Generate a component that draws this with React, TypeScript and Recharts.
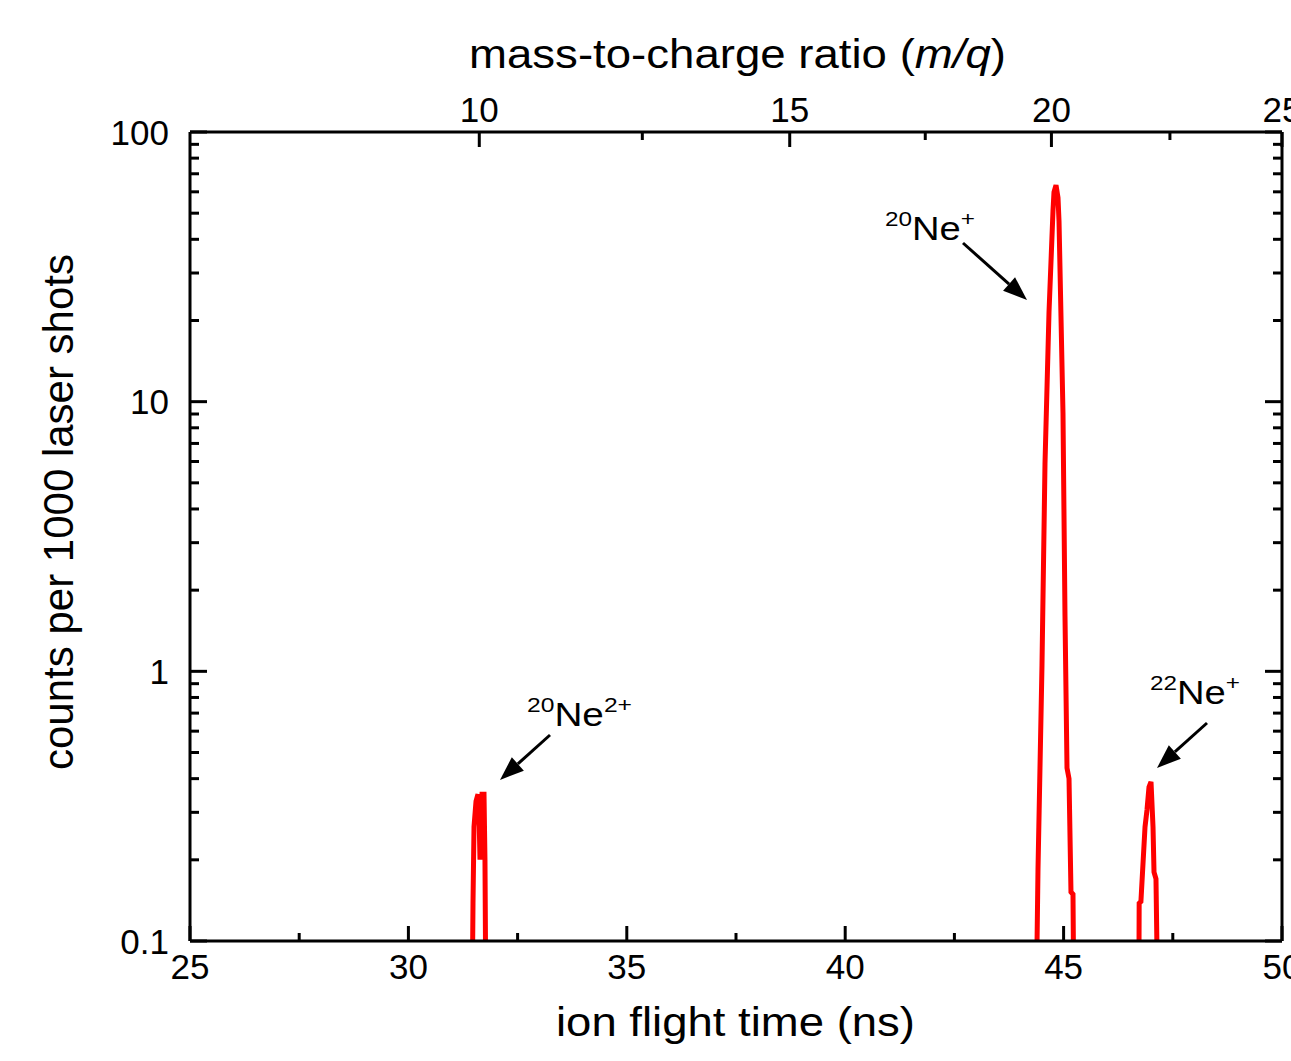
import { Line, LineChart, XAxis, YAxis } from 'recharts';

const FONT = '"Liberation Sans", Arial, Helvetica, sans-serif';

// axis ticks
const TIME_TICKS = [25, 27.5, 30, 32.5, 35, 37.5, 40, 42.5, 45, 47.5, 50];
const MQ_TICKS = [10, 12.5, 15, 17.5, 20, 22.5, 25];
const COUNT_TICKS = [
  0.1, 0.2, 0.3, 0.4, 0.5, 0.6, 0.7, 0.8, 0.9,
  1, 2, 3, 4, 5, 6, 7, 8, 9,
  10, 20, 30, 40, 50, 60, 70, 80, 90, 100,
];

// 20Ne2+ peak
const PEAK_A_TIME = [31.456, 31.479, 31.502, 31.548, 31.593, 31.616, 31.639, 31.662, 31.685, 31.731, 31.753, 31.776];
const PEAK_A_COUNTS = [0.05, 0.138, 0.265, 0.33, 0.35, 0.3, 0.2, 0.3, 0.35, 0.35, 0.2, 0.05];

// 20Ne+ peak
const PEAK_B_TIME = [44.368, 44.414, 44.505, 44.574, 44.666, 44.757, 44.78, 44.826, 44.872, 44.895, 44.986, 45.032, 45.078, 45.124, 45.169, 45.215, 45.238];
const PEAK_B_COUNTS = [0.05, 0.185, 1.05, 5.87, 21.5, 50.9, 59.8, 63.5, 57, 46.7, 9.07, 1.6, 0.438, 0.4, 0.152, 0.149, 0.05];

// 22Ne+ peak
const PEAK_C_TIME = [46.72, 46.73, 46.77, 46.864, 46.909, 46.955, 47.001, 47.047, 47.07, 47.115, 47.161];
const PEAK_C_COUNTS = [0.05, 0.138, 0.14, 0.265, 0.306, 0.372, 0.389, 0.265, 0.18, 0.17, 0.05];

const toRows = (ts: number[], vs: number[]) => ts.map((t, i) => ({ t, v: vs[i] }));

const data = [
  ...toRows(PEAK_A_TIME, PEAK_A_COUNTS),
  { t: 38, v: null },
  ...toRows(PEAK_B_TIME, PEAK_B_COUNTS),
  { t: 46, v: null },
  ...toRows(PEAK_C_TIME, PEAK_C_COUNTS),
];

// flight time ~ 10 * sqrt(m/q)
const TOP_TICK_TIMES = MQ_TICKS.map((m) => 10 * Math.sqrt(m));

const isDecade = (v: number) => {
  const lg = Math.log10(v);
  return Math.abs(lg - Math.round(lg)) < 1e-6;
};

const BottomTick = (props: any) => {
  const { x, y, payload } = props;
  const v = payload.value;
  const major = v % 5 === 0;
  return (
    <g>
      <line x1={x} y1={y} x2={x} y2={y - (major ? 15 : 8)} stroke="#000" strokeWidth={3} />
      {major && (
        <text x={x} y={y + 38} textAnchor="middle" fontSize={35} fontFamily={FONT} fill="#000">
          {v}
        </text>
      )}
    </g>
  );
};

const TopTick = (props: any) => {
  const { x, y, payload } = props;
  const mq = Math.round(Math.pow(payload.value / 10, 2) * 10) / 10;
  const major = mq % 5 === 0;
  return (
    <g>
      <line x1={x} y1={y} x2={x} y2={y + (major ? 15 : 8)} stroke="#000" strokeWidth={3} />
      {major && (
        <text x={x} y={y - 10} textAnchor="middle" fontSize={35} fontFamily={FONT} fill="#000">
          {mq}
        </text>
      )}
    </g>
  );
};

const LeftTick = (props: any) => {
  const { x, y, payload } = props;
  const v = payload.value;
  const major = isDecade(v);
  return (
    <g>
      <line x1={x} y1={y} x2={x + (major ? 17 : 9)} y2={y} stroke="#000" strokeWidth={3} />
      {major && (
        <text x={x - 21} y={y} dy="0.36em" textAnchor="end" fontSize={35} fontFamily={FONT} fill="#000">
          {String(v)}
        </text>
      )}
    </g>
  );
};

const RightTick = (props: any) => {
  const { x, y, payload } = props;
  const major = isDecade(payload.value);
  return <line x1={x} y1={y} x2={x - (major ? 17 : 9)} y2={y} stroke="#000" strokeWidth={3} />;
};

const Arrow = ({ x1, y1, x2, y2 }: { x1: number; y1: number; x2: number; y2: number }) => {
  const a = Math.atan2(y2 - y1, x2 - x1);
  const len = 24;
  const w = 9;
  const bx = x2 - len * Math.cos(a);
  const by = y2 - len * Math.sin(a);
  const px = -Math.sin(a) * w;
  const py = Math.cos(a) * w;
  return (
    <g>
      <line x1={x1} y1={y1} x2={bx} y2={by} stroke="#000" strokeWidth={3} />
      <polygon points={`${x2},${y2} ${bx + px},${by + py} ${bx - px},${by - py}`} fill="#000" />
    </g>
  );
};

const IonLabel = ({ x, y, mass, charge, width }: { x: number; y: number; mass: string; charge: string; width: number }) => (
  <text x={x} y={y} fontFamily={FONT} fontSize={33} fill="#000" textLength={width} lengthAdjust="spacingAndGlyphs">
    <tspan fontSize={21} dy={-14}>{mass}</tspan>
    <tspan dy={14}>Ne</tspan>
    <tspan fontSize={21} dy={-14}>{charge}</tspan>
  </text>
);

export default function App() {
  return (
    <div style={{ position: 'absolute', left: 0, top: 0, width: 1291, height: 1061, background: '#fff' }}>
      <LineChart
        width={1291}
        height={1061}
        data={data}
        margin={{ top: 102, right: 8, bottom: 90, left: 160 }}
      >
        <XAxis
          xAxisId="bottom"
          dataKey="t"
          type="number"
          domain={[25, 50]}
          ticks={TIME_TICKS}
          interval={0}
          allowDataOverflow
          height={30}
          tickSize={0}
          tickMargin={0}
          tickLine={false}
          tick={<BottomTick />}
          axisLine={{ stroke: '#000', strokeWidth: 3 }}
        />
        <XAxis
          xAxisId="top"
          dataKey="t"
          orientation="top"
          type="number"
          domain={[25, 50]}
          ticks={TOP_TICK_TIMES}
          interval={0}
          allowDataOverflow
          height={30}
          tickSize={0}
          tickMargin={0}
          tickLine={false}
          tick={<TopTick />}
          axisLine={{ stroke: '#000', strokeWidth: 3 }}
        />
        <YAxis
          yAxisId="left"
          dataKey="v"
          scale="log"
          type="number"
          domain={[0.1, 100]}
          ticks={COUNT_TICKS}
          interval={0}
          allowDataOverflow
          width={30}
          tickSize={0}
          tickMargin={0}
          tickLine={false}
          tick={<LeftTick />}
          axisLine={{ stroke: '#000', strokeWidth: 3 }}
        />
        <YAxis
          yAxisId="right"
          dataKey="v"
          orientation="right"
          scale="log"
          type="number"
          domain={[0.1, 100]}
          ticks={COUNT_TICKS}
          interval={0}
          allowDataOverflow
          width={1}
          tickSize={0}
          tickMargin={0}
          tickLine={false}
          tick={<RightTick />}
          axisLine={{ stroke: '#000', strokeWidth: 3 }}
        />
        <Line
          xAxisId="bottom"
          yAxisId="left"
          type="linear"
          dataKey="v"
          stroke="#ff0000"
          strokeWidth={5}
          dot={false}
          connectNulls={false}
          isAnimationActive={false}
        />
      </LineChart>
      <svg
        width={1291}
        height={1061}
        style={{ position: 'absolute', left: 0, top: 0, pointerEvents: 'none' }}
      >
        <text
          x={469}
          y={68}
          fontFamily={FONT}
          fontSize={41}
          fill="#000"
          textLength={537}
          lengthAdjust="spacingAndGlyphs"
        >
          mass-to-charge ratio (<tspan fontStyle="italic">m/q</tspan>)
        </text>
        <text
          x={556}
          y={1036}
          fontFamily={FONT}
          fontSize={41}
          fill="#000"
          textLength={359}
          lengthAdjust="spacingAndGlyphs"
        >
          ion flight time (ns)
        </text>
        <text
          x={73}
          y={512}
          transform="rotate(-90 73 512)"
          textAnchor="middle"
          fontFamily={FONT}
          fontSize={42}
          fill="#000"
        >
          counts per 1000 laser shots
        </text>
        <IonLabel x={885} y={240} mass="20" charge="+" width={90} />
        <Arrow x1={963} y1={243} x2={1027} y2={300} />
        <IonLabel x={527} y={726} mass="20" charge="2+" width={105} />
        <Arrow x1={550} y1={735} x2={500} y2={780} />
        <IonLabel x={1150} y={704} mass="22" charge="+" width={90} />
        <Arrow x1={1207} y1={723} x2={1157} y2={768} />
      </svg>
    </div>
  );
}
